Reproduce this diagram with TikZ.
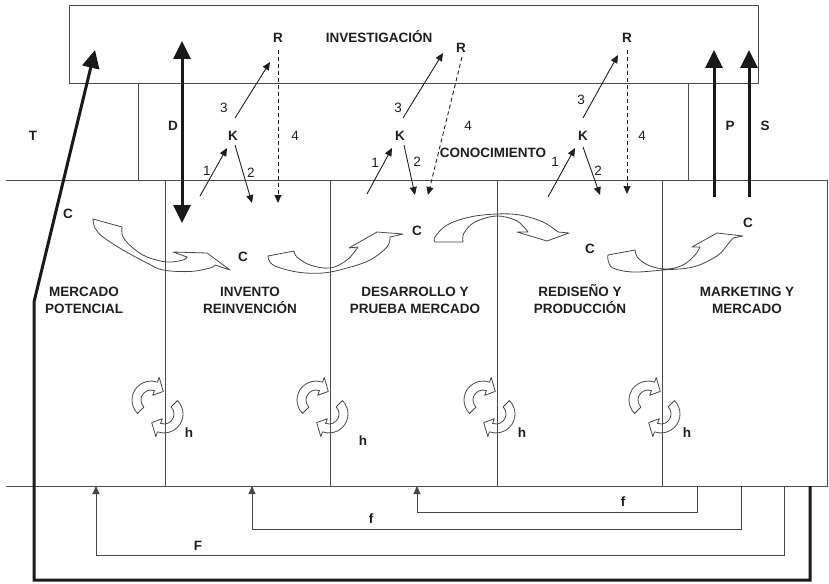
\documentclass[tikz,border=0pt]{standalone}
\usepackage{fontspec}
\setmainfont{Liberation Sans}
\usetikzlibrary{arrows.meta}
\begin{document}
\begin{tikzpicture}[x=1pt,y=-1pt,
  frame/.style={draw=black!70, line width=0.9pt},
  lbl/.style={font=\fontsize{13.5}{16.5}\selectfont\bfseries, text=black!88, inner sep=0pt, anchor=base},
  num/.style={font=\fontsize{13.5}{16.5}\selectfont, text=black!88, inner sep=0pt, anchor=base},
  colhead/.style={lbl, align=center},
  thinarrow/.style={draw=black!88, line width=0.9pt, -{Triangle[width=7pt,length=8pt]}},
  dasharrow/.style={thinarrow, dash pattern=on 4pt off 3pt},
  bigarrow/.style={draw=black!90, line width=3pt, line join=miter, -{Triangle[width=17pt,length=18pt]}},
  bigboth/.style={draw=black!90, line width=3pt, {Triangle[width=17pt,length=18pt]}-{Triangle[width=17pt,length=18pt]}},
  ribbon/.style={draw=black!72, line width=0.8pt, line join=round},
  feedback/.style={draw=black!72, line width=0.9pt, -{Triangle[width=7pt,length=8pt]}},
  cyclesym/.pic={
    \begin{scope}[yscale=-1]
      \begin{scope}[shift={(-14,7)}]
        \draw[ribbon] (225:19) arc[start angle=225,end angle=70,radius=19]
          -- (70:24) -- (35:15) -- (70:5) -- (70:10)
          arc[start angle=70,end angle=225,radius=10] -- cycle;
      \end{scope}
      \begin{scope}[shift={(-1,-7)}]
        \draw[ribbon] (45:19) arc[start angle=45,end angle=-110,radius=19]
          -- (-110:24) -- (-145:15) -- (-110:5) -- (-110:10)
          arc[start angle=-110,end angle=45,radius=10] -- cycle;
      \end{scope}
    \end{scope}
  },
]
\useasboundingbox (0,0) rectangle (829,583);

% ---------- frame: research box, knowledge band, five stages ----------
\draw[frame] (69,5) rectangle (758,83);
\draw[frame] (138,83) -- (138,180);
\draw[frame] (688,83) -- (688,180);
\draw[frame] (6,180) -- (827,180) -- (827,486) -- (6,486);
\foreach \cx in {165,330,497,662}
  \draw[frame] (\cx,180) -- (\cx,486);

% ---------- texts ----------
\node[lbl] (inv) at (379,43) {INVESTIGACIÓN};
\node[lbl] (con) at (493,157) {CONOCIMIENTO};
\node[lbl] (T) at (33,140) {T};
\node[lbl] (D) at (173,131) {D};
\node[lbl] (P) at (730,131) {P};
\node[lbl] (S) at (765,131) {S};

\node[lbl] (R1) at (278,43) {R};
\node[lbl] (R2) at (461,53) {R};
\node[lbl] (R3) at (627,43) {R};
\node[lbl] (K1) at (233,140) {K};
\node[lbl] (K2) at (400,140) {K};
\node[lbl] (K3) at (583,140) {K};

\node[num] (n1a) at (207,175) {1};
\node[num] (n2a) at (251,177) {2};
\node[num] (n3a) at (224,113) {3};
\node[num] (n4a) at (295,140) {4};
\node[num] (n1b) at (375,167) {1};
\node[num] (n2b) at (417,166) {2};
\node[num] (n3b) at (398,113) {3};
\node[num] (n4b) at (468,131) {4};
\node[num] (n1c) at (555,166) {1};
\node[num] (n2c) at (598,175) {2};
\node[num] (n3c) at (581,105) {3};
\node[num] (n4c) at (642,140) {4};

\node[colhead] (s1) at (84,313) {MERCADO\\POTENCIAL};
\node[colhead] (s2) at (250,313) {INVENTO\\REINVENCIÓN};
\node[colhead] (s3) at (415,313) {DESARROLLO Y\\PRUEBA MERCADO};
\node[colhead] (s4) at (580,313) {REDISEÑO Y\\PRODUCCIÓN};
\node[colhead] (s5) at (747,313) {MARKETING Y\\MERCADO};

\node[lbl] (C1) at (68,218) {C};
\node[lbl] (C2) at (243,261) {C};
\node[lbl] (C3) at (417,235) {C};
\node[lbl] (C4) at (590,253) {C};
\node[lbl] (C5) at (748,227) {C};

\node[lbl] (h1) at (189,437) {h};
\node[lbl] (h2) at (363,445) {h};
\node[lbl] (h3) at (522,437) {h};
\node[lbl] (h4) at (687,437) {h};

\node[lbl] (fa) at (623,506) {f};
\node[lbl] (fb) at (371,523) {f};
\node[lbl] (FF) at (198,550) {F};

% ---------- knowledge arrows 1-4 ----------
\coordinate (a1s) at (200,196); \coordinate (a1e) at (227,148);
\coordinate (a2s) at (235,145); \coordinate (a2e) at (252,203);
\coordinate (a3s) at (235,118); \coordinate (a3e) at (270,62);
\coordinate (a4s) at (278,50);  \coordinate (a4e) at (278,203);
\draw[thinarrow] (a1s) -- (a1e);
\draw[thinarrow] (a2s) -- (a2e);
\draw[thinarrow] (a3s) -- (a3e);
\draw[dasharrow] (a4s) -- (a4e);

\coordinate (b1s) at (367,194); \coordinate (b1e) at (392,148);
\coordinate (b2s) at (404,145); \coordinate (b2e) at (415,195);
\coordinate (b3s) at (403,118); \coordinate (b3e) at (443,53);
\coordinate (b4s) at (462,57);  \coordinate (b4e) at (428,195);
\draw[thinarrow] (b1s) -- (b1e);
\draw[thinarrow] (b2s) -- (b2e);
\draw[thinarrow] (b3s) -- (b3e);
\draw[dasharrow] (b4s) -- (b4e);

\coordinate (c1s) at (548,197); \coordinate (c1e) at (575,148);
\coordinate (c2s) at (583,147); \coordinate (c2e) at (600,195);
\coordinate (c3s) at (583,118); \coordinate (c3e) at (618,55);
\coordinate (c4s) at (627,50);  \coordinate (c4e) at (627,194);
\draw[thinarrow] (c1s) -- (c1e);
\draw[thinarrow] (c2s) -- (c2e);
\draw[thinarrow] (c3s) -- (c3e);
\draw[dasharrow] (c4s) -- (c4e);

% ---------- thick arrows D, P, S ----------
\coordinate (dtop) at (182,41); \coordinate (dbot) at (182,223);
\draw[bigboth] (dtop) -- (dbot);
\coordinate (pbot) at (714,197); \coordinate (ptop) at (714,50);
\coordinate (sbot) at (749,197); \coordinate (stop) at (749,50);
\draw[bigarrow] (pbot) -- (ptop);
\draw[bigarrow] (sbot) -- (stop);

% ---------- curved ribbon arrows between the C points ----------
\draw[ribbon] (93,219) -- (122,227)
  -- plot[smooth, tension=0.6] coordinates {(122,227) (123,237) (133,248) (147,257) (167,262) (183,260) (187,257)}
  -- (173,252) -- (207,253) -- (230,270) -- (215,265)
  -- plot[smooth, tension=0.6] coordinates {(215,265) (210,268) (190,271.5) (163,270) (147,263) (123,250) (103,237) (95,228) (93,219)}
  -- cycle;

\draw[ribbon] (268,256) -- (294,251)
  -- plot[smooth, tension=0.6] coordinates {(294,251) (297,257) (310,265) (330,268) (347,260) (358,247)}
  -- (349,248) -- (377,232) -- (403,234) -- (390,237)
  -- plot[smooth, tension=0.6] coordinates {(390,237) (387,247) (370,260) (347,268) (323,273) (297,272) (273,265) (268,256)}
  -- cycle;

\draw[ribbon] (435,242) -- (463,242)
  -- plot[smooth, tension=0.6] coordinates {(463,242) (464,233) (475,222) (497,216) (517,221) (528,232)}
  -- (517,232) -- (547,241) -- (569,233) -- (558,232)
  -- plot[smooth, tension=0.6] coordinates {(558,232) (543,222) (520,215) (497,214) (470,217) (447,225) (435,237) (435,242)}
  -- cycle;

\draw[ribbon] (608,255) -- (635,250)
  -- plot[smooth, tension=0.6] coordinates {(635,250) (638,258) (650,266) (667,269) (683,265) (695,255) (700,247)}
  -- (692,247) -- (717,233) -- (743,236) -- (733,238)
  -- plot[smooth, tension=0.6] coordinates {(733,238) (728,244) (717,256) (693,267) (663,270) (633,272) (613,268) (608,260) (608,255)}
  -- cycle;

% ---------- iteration symbols on the stage borders ----------
\foreach \cx in {165,330,497,662}
  \pic at (\cx,407) {cyclesym};

% ---------- feedback loops ----------
\coordinate (fa0) at (697,486); \coordinate (fa1) at (697,512);
\coordinate (fa2) at (417,512); \coordinate (fa3) at (417,486);
\draw[feedback] (fa0) -- (fa1) -- (fa2) -- (fa3);
\coordinate (fb0) at (741,486); \coordinate (fb1) at (741,529);
\coordinate (fb2) at (252,529); \coordinate (fb3) at (252,486);
\draw[feedback] (fb0) -- (fb1) -- (fb2) -- (fb3);
\coordinate (F0) at (784,486); \coordinate (F1) at (784,555);
\coordinate (F2) at (96,555);  \coordinate (F3) at (96,486);
\draw[feedback] (F0) -- (F1) -- (F2) -- (F3);

% ---------- long return to research ----------
\coordinate (t0) at (810,486); \coordinate (t1) at (810,580);
\coordinate (t2) at (34,580);  \coordinate (t3) at (34,302);
\coordinate (t4) at (95,50);
\draw[bigarrow] (t0) -- (t1) -- (t2) -- (t3) -- (t4);
\end{tikzpicture}
\end{document}
